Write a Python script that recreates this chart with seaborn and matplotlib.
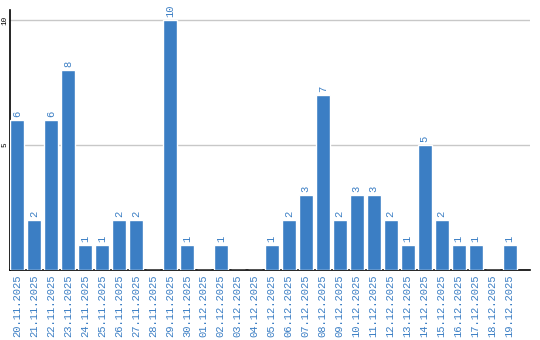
import matplotlib
matplotlib.use("Agg")
import matplotlib.pyplot as plt
import seaborn as sns
import pandas as pd

dates = ["20.11.2025", "21.11.2025", "22.11.2025", "23.11.2025", "24.11.2025",
         "25.11.2025", "26.11.2025", "27.11.2025", "28.11.2025", "29.11.2025",
         "30.11.2025", "01.12.2025", "02.12.2025", "03.12.2025", "04.12.2025",
         "05.12.2025", "06.12.2025", "07.12.2025", "08.12.2025", "09.12.2025",
         "10.12.2025", "11.12.2025", "12.12.2025", "13.12.2025", "14.12.2025",
         "15.12.2025", "16.12.2025", "17.12.2025", "18.12.2025", "19.12.2025"]
values = [6, 2, 6, 8, 1, 1, 2, 2, 0, 10, 1, 0, 1, 0, 0,
          1, 2, 3, 7, 2, 3, 3, 2, 1, 5, 2, 1, 1, 0, 1]
yticks = [5, 10]

sns.set_style("white")
plt.rcParams['font.family'] = ['Liberation Mono', 'DejaVu Sans Mono']

BLUE = "#3b7ec4"
df = pd.DataFrame({"date": dates, "value": values})

fig = plt.figure(figsize=(5.4, 3.4), dpi=100)
ax = fig.add_axes([10/540, 70/340, 520/540, 260/340])
sns.barplot(data=df, x="date", y="value", color=BLUE, saturation=1, width=0.82, ax=ax, zorder=3)

ax.set_xlim(-0.41, 30.2)
ax.set_ylim(0, 10.4)
ax.set_yticks(yticks)
ax.set_yticklabels([str(t) for t in yticks], rotation=90, va="center", fontsize=5.5, color="black")
ax.tick_params(axis="y", length=0, pad=1)
ax.tick_params(axis="x", length=0, pad=3)
for lbl in ax.get_xticklabels():
    lbl.set_rotation(90)
    lbl.set_fontsize(7.6)
    lbl.set_color(BLUE)
    lbl.set_va("top")
ax.grid(axis="y", color="#c8c8c8", linewidth=1, zorder=0)
ax.set_xlabel("")
ax.set_ylabel("")
for s in ["top", "right"]:
    ax.spines[s].set_visible(False)
ax.spines["left"].set_color("black")
ax.spines["bottom"].set_color("black")
ax.spines["left"].set_linewidth(1.2)
ax.spines["bottom"].set_linewidth(1.2)

for i, v in enumerate(values):
    if v > 0:
        ax.annotate(str(v), (i, v), xytext=(0, 2), textcoords="offset points",
                    ha="center", va="bottom", rotation=90, fontsize=7.6, color=BLUE)

fig.savefig("out.png", dpi=100)
